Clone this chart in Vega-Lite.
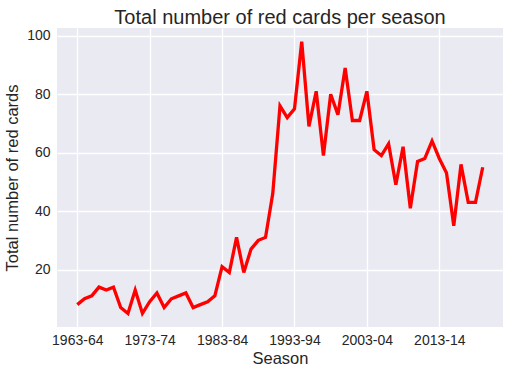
{
  "$schema": "https://vega.github.io/schema/vega-lite/v6.json",
  "width": 446,
  "height": 299,
  "autosize": {"type": "none"},
  "padding": {"left": 57, "top": 28, "right": 7, "bottom": 47},
  "background": "white",
  "config": {
    "view": {"fill": "#EAEAF2", "stroke": null},
    "font": "Liberation Sans",
    "axis": {
      "domain": false,
      "ticks": false,
      "gridColor": "white",
      "gridWidth": 1.3,
      "gridOpacity": 1,
      "labelColor": "#262626",
      "labelFontSize": 14,
      "labelFont": "Liberation Sans",
      "titleColor": "#262626",
      "titleFontSize": 16.5,
      "titleFont": "Liberation Sans",
      "titleFontWeight": "normal"
    }
  },
  "title": {
    "text": "Total number of red cards per season",
    "fontSize": 20,
    "font": "Liberation Sans",
    "fontWeight": "normal",
    "color": "#262626",
    "anchor": "middle",
    "offset": 0
  },
  "data": {
    "values": [
      {"season": "1963-64", "start_year": 1963, "red_cards": 8},
      {"season": "1964-65", "start_year": 1964, "red_cards": 10},
      {"season": "1965-66", "start_year": 1965, "red_cards": 11},
      {"season": "1966-67", "start_year": 1966, "red_cards": 14},
      {"season": "1967-68", "start_year": 1967, "red_cards": 13},
      {"season": "1968-69", "start_year": 1968, "red_cards": 14},
      {"season": "1969-70", "start_year": 1969, "red_cards": 7},
      {"season": "1970-71", "start_year": 1970, "red_cards": 5},
      {"season": "1971-72", "start_year": 1971, "red_cards": 13},
      {"season": "1972-73", "start_year": 1972, "red_cards": 5},
      {"season": "1973-74", "start_year": 1973, "red_cards": 9},
      {"season": "1974-75", "start_year": 1974, "red_cards": 12},
      {"season": "1975-76", "start_year": 1975, "red_cards": 7},
      {"season": "1976-77", "start_year": 1976, "red_cards": 10},
      {"season": "1977-78", "start_year": 1977, "red_cards": 11},
      {"season": "1978-79", "start_year": 1978, "red_cards": 12},
      {"season": "1979-80", "start_year": 1979, "red_cards": 7},
      {"season": "1980-81", "start_year": 1980, "red_cards": 8},
      {"season": "1981-82", "start_year": 1981, "red_cards": 9},
      {"season": "1982-83", "start_year": 1982, "red_cards": 11},
      {"season": "1983-84", "start_year": 1983, "red_cards": 21},
      {"season": "1984-85", "start_year": 1984, "red_cards": 19},
      {"season": "1985-86", "start_year": 1985, "red_cards": 31},
      {"season": "1986-87", "start_year": 1986, "red_cards": 19},
      {"season": "1987-88", "start_year": 1987, "red_cards": 27},
      {"season": "1988-89", "start_year": 1988, "red_cards": 30},
      {"season": "1989-90", "start_year": 1989, "red_cards": 31},
      {"season": "1990-91", "start_year": 1990, "red_cards": 46},
      {"season": "1991-92", "start_year": 1991, "red_cards": 76},
      {"season": "1992-93", "start_year": 1992, "red_cards": 72},
      {"season": "1993-94", "start_year": 1993, "red_cards": 75},
      {"season": "1994-95", "start_year": 1994, "red_cards": 98},
      {"season": "1995-96", "start_year": 1995, "red_cards": 69},
      {"season": "1996-97", "start_year": 1996, "red_cards": 81},
      {"season": "1997-98", "start_year": 1997, "red_cards": 59},
      {"season": "1998-99", "start_year": 1998, "red_cards": 80},
      {"season": "1999-00", "start_year": 1999, "red_cards": 73},
      {"season": "2000-01", "start_year": 2000, "red_cards": 89},
      {"season": "2001-02", "start_year": 2001, "red_cards": 71},
      {"season": "2002-03", "start_year": 2002, "red_cards": 71},
      {"season": "2003-04", "start_year": 2003, "red_cards": 81},
      {"season": "2004-05", "start_year": 2004, "red_cards": 61},
      {"season": "2005-06", "start_year": 2005, "red_cards": 59},
      {"season": "2006-07", "start_year": 2006, "red_cards": 63},
      {"season": "2007-08", "start_year": 2007, "red_cards": 49},
      {"season": "2008-09", "start_year": 2008, "red_cards": 62},
      {"season": "2009-10", "start_year": 2009, "red_cards": 41},
      {"season": "2010-11", "start_year": 2010, "red_cards": 57},
      {"season": "2011-12", "start_year": 2011, "red_cards": 58},
      {"season": "2012-13", "start_year": 2012, "red_cards": 64},
      {"season": "2013-14", "start_year": 2013, "red_cards": 58},
      {"season": "2014-15", "start_year": 2014, "red_cards": 53},
      {"season": "2015-16", "start_year": 2015, "red_cards": 35},
      {"season": "2016-17", "start_year": 2016, "red_cards": 56},
      {"season": "2017-18", "start_year": 2017, "red_cards": 43},
      {"season": "2018-19", "start_year": 2018, "red_cards": 43},
      {"season": "2019-20", "start_year": 2019, "red_cards": 55}
    ]
  },
  "mark": {"type": "line", "color": "#FF0000", "strokeWidth": 3.3},
  "encoding": {
    "x": {
      "field": "start_year",
      "type": "quantitative",
      "scale": {"domain": [1960.2, 2021.8], "nice": false, "zero": false},
      "axis": {
        "values": [1963, 1973, 1983, 1993, 2003, 2013],
        "labelExpr": "datum.value + '-' + substring(toString(datum.value + 1), 2, 4)",
        "labelAngle": 0,
        "labelPadding": 6,
        "labelFlush": false,
        "title": "Season",
        "titlePadding": 3,
        "grid": true
      }
    },
    "y": {
      "field": "red_cards",
      "type": "quantitative",
      "scale": {"domain": [0.35, 102.65], "nice": false, "zero": false},
      "axis": {
        "values": [20, 40, 60, 80, 100],
        "labelPadding": 7,
        "title": "Total number of red cards",
        "titlePadding": 6
      }
    }
  }
}
